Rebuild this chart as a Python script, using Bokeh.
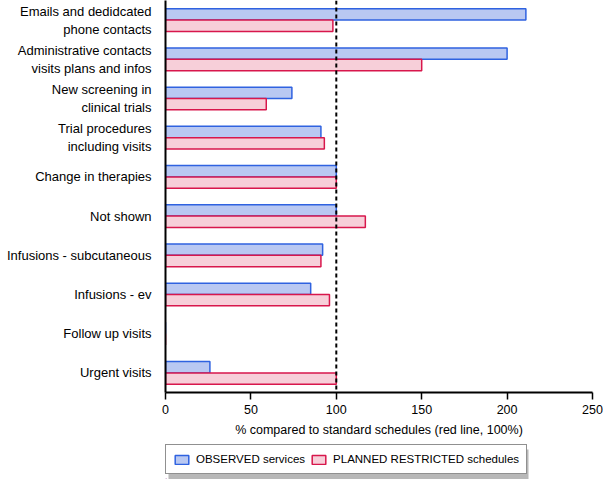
from bokeh.plotting import figure
from bokeh.layouts import column
from bokeh.models import (FactorRange, Span, Legend, LegendItem, ColumnDataSource,
                          FixedTicker, BoxAnnotation, Range1d)
from bokeh.transform import dodge
from bokeh.embed import file_html
from bokeh.resources import INLINE

categories = [
    "Emails and dedidcated\nphone contacts",
    "Administrative contacts\nvisits plans and infos",
    "New screening in\nclinical trials",
    "Trial procedures\nincluding visits",
    "Change in therapies",
    "Not shown",
    "Infusions - subcutaneous",
    "Infusions - ev",
    "Follow up visits",
    "Urgent visits",
]
observed = [211, 200, 74, 91, 100, 100, 92, 85, 0, 26]
planned = [98, 150, 59, 93, 100, 117, 91, 96, 0, 100]
series_labels = ["OBSERVED services", "PLANNED RESTRICTED schedules"]
x_ticks = [0, 50, 100, 150, 200, 250]
reference_line = 100

FONT = "Liberation Sans"
BLUE_FILL, BLUE_LINE = "#b9c8f2", "#2f62e0"
PINK_FILL, PINK_LINE = "#f7cfd9", "#d8174c"

src = ColumnDataSource(dict(cat=categories, obs=observed, plan=planned))

p = figure(
    frame_width=427, frame_height=392,
    y_range=FactorRange(factors=list(reversed(categories))),
    x_range=(0, 250),
    output_backend="svg", toolbar_location=None,
    min_border_left=165, min_border_right=11, min_border_top=0, min_border_bottom=50,
)

p.hbar(y=dodge("cat", 0.145, range=p.y_range), right="obs", left=0, height=0.29,
       source=src, fill_color=BLUE_FILL, line_color=BLUE_LINE, line_width=1.5)
p.hbar(y=dodge("cat", -0.145, range=p.y_range), right="plan", left=0, height=0.29,
       source=src, fill_color=PINK_FILL, line_color=PINK_LINE, line_width=1.5)

p.add_layout(Span(location=reference_line, dimension="height", line_color="black",
                  line_dash="4 3", line_width=2))

p.grid.visible = False
p.outline_line_color = None

xa = p.xaxis[0]
xa.ticker = FixedTicker(ticks=x_ticks)
xa.minor_tick_line_color = None
xa.axis_line_width = 2
xa.axis_line_color = "black"
xa.major_tick_line_width = 1.5
xa.major_tick_line_color = "black"
xa.major_tick_out = 7
xa.major_tick_in = 0
xa.major_label_standoff = 5
xa.major_label_text_font = FONT
xa.major_label_text_font_size = "12.5px"
xa.major_label_text_color = "black"
xa.axis_label = "% compared to standard schedules (red line, 100%)"
xa.axis_label_text_font = FONT
xa.axis_label_text_font_style = "normal"
xa.axis_label_text_font_size = "12.5px"
xa.axis_label_text_color = "black"
xa.axis_label_standoff = 6

ya = p.yaxis[0]
ya.axis_line_width = 2
ya.axis_line_color = "black"
ya.major_tick_line_color = None
ya.minor_tick_line_color = None
ya.major_label_text_font = FONT
ya.major_label_text_font_size = "13px"
ya.major_label_text_color = "black"
ya.major_label_standoff = 8

# legend strip below the chart; its frame lines up with the chart frame (165..592 px)
lg = figure(frame_width=427, frame_height=37, x_range=Range1d(0, 427), y_range=Range1d(0, 37),
            output_backend="svg", toolbar_location=None,
            min_border_left=165, min_border_right=11, min_border_top=0, min_border_bottom=0)
lg.axis.visible = False
lg.grid.visible = False
lg.outline_line_color = None

# drop shadow behind the legend box
lg.add_layout(BoxAnnotation(left=3, right=363, bottom=0, top=30,
                            fill_color="#b8b8b8", fill_alpha=1, line_color=None))

# legend-only renderers placed outside the visible range
r1 = lg.hbar(y=[-100], right=[1], left=0, height=1, fill_color=BLUE_FILL,
             line_color=BLUE_LINE, line_width=1.5)
r2 = lg.hbar(y=[-100], right=[1], left=0, height=1, fill_color=PINK_FILL,
             line_color=PINK_LINE, line_width=1.5)

legend = Legend(items=[LegendItem(label=series_labels[0], renderers=[r1]),
                       LegendItem(label=series_labels[1], renderers=[r2])],
                orientation="horizontal", location=(0, 5),
                label_text_font=FONT, label_text_font_size="11.5px", label_text_color="black",
                label_height=14,
                border_line_color="#222222", border_line_width=1,
                background_fill_color="white", background_fill_alpha=1,
                glyph_width=17, glyph_height=11, spacing=5, padding=7, margin=0,
                label_standoff=6)
lg.add_layout(legend)

layout = column(p, lg, spacing=0)
open("out.html", "w").write(file_html(layout, INLINE))
